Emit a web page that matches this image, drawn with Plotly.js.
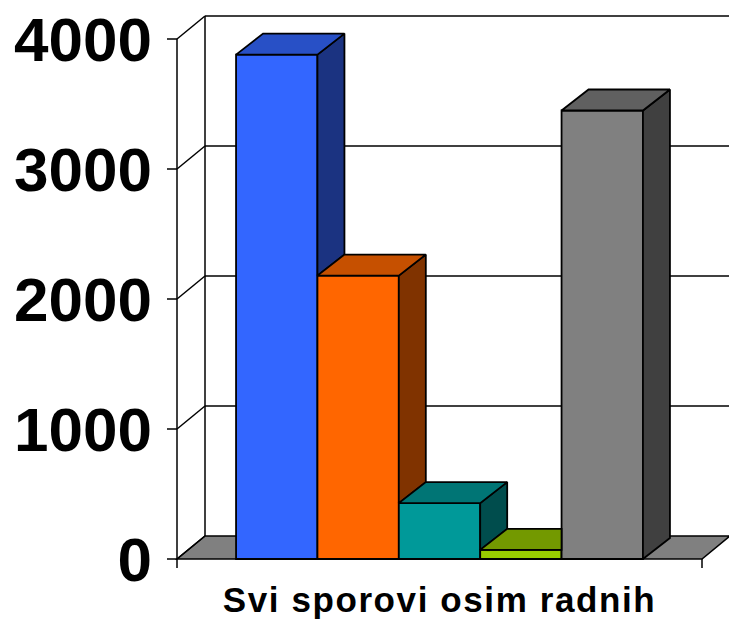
<!DOCTYPE html>
<html>
<head>
<meta charset="utf-8">
<script src="https://cdn.plot.ly/plotly-3.0.1.min.js"></script>
<style>
html, body { margin: 0; padding: 0; background: #ffffff; }
#chart { width: 729px; height: 621px; }
.xtick text { letter-spacing: 1.6px; }
</style>
</head>
<body>
<div id="chart"></div>
<script>
// ---- data ----
const categories = ['Svi sporovi osim radnih'];
const seriesNames = ['A', 'B', 'C', 'D', 'E'];
const seriesValues = [3880, 2180, 430, 70, 3450];
const yTickValues = [0, 1000, 2000, 3000, 4000];

// ---- styles ----
const frontColors = ['#3366FF', '#FF6600', '#009999', '#99CC00', '#808080'];
const topColors   = ['#2850C6', '#C65000', '#007575', '#739900', '#606060'];
const sideColors  = ['#1B3381', '#803300', '#004D4D', '#4D6600', '#404040'];

// ---- geometry (pixels -> data units) ----
const W = 729, H = 621;
const plotL = 165, plotR = 729, plotT = 14, plotB = 571;
const frontAxisPx = 177;   // x pixel of category boundary -0.5
const catPx = 525;         // pixels per category unit
const zeroPx = 559;        // y pixel of value 0
const pxPerUnit = 0.13;    // pixels per value unit
const xRange = [-0.5 - (frontAxisPx - plotL) / catPx, -0.5 + (plotR - frontAxisPx) / catPx];
const yRange = [-(plotB - zeroPx) / pxPerUnit, (zeroPx - plotT) / pxPerUnit];
const wallDx = 28 / catPx, wallDy = 23 / pxPerUnit;
const barDx = 27 / catPx, barDy = 21 / pxPerUnit;
const barGap = 0.225;
const barW = (1 - barGap) / seriesValues.length;
const tickLenX = 10 / catPx, tickLenY = 9 / pxPerUnit;
const yTop = yTickValues[yTickValues.length - 1];

const black = '#000000';
const shapes = [];
function line(x0, y0, x1, y1, w) {
  shapes.push({type: 'line', xref: 'x', yref: 'y', x0, y0, x1, y1, layer: 'below',
               line: {color: black, width: w || 1.5}});
}
// floor
shapes.push({type: 'path', xref: 'x', yref: 'y', layer: 'below',
  path: `M ${-0.5},0 L ${0.5},0 L ${0.5 + wallDx},${wallDy} L ${-0.5 + wallDx},${wallDy} Z`,
  fillcolor: '#808080', line: {color: black, width: 1.5}});
// back wall vertical edge
line(-0.5 + wallDx, wallDy, -0.5 + wallDx, yTop + wallDy);
// gridlines on back wall + diagonals on side wall + front ticks
yTickValues.forEach(t => {
  if (t > 0) line(-0.5 + wallDx, t + wallDy, xRange[1] + 0.01, t + wallDy);
  line(-0.5, t, -0.5 + wallDx, t + wallDy);
  line(-0.5 - tickLenX, t, -0.5, t);
});
// front axis
line(-0.5, -tickLenY, -0.5, yTop);
// category boundary tick at right
line(0.5, -tickLenY, 0.5, 0);

// ---- traces ----
const traces = [];
const centers = seriesValues.map((v, i) => -0.5 + barGap / 2 + (i + 0.5) * barW);
traces.push({
  type: 'bar', x: centers, y: seriesValues, width: barW,
  marker: {color: frontColors, line: {color: black, width: 1.8}},
  hoverinfo: 'skip', showlegend: false
});
seriesValues.forEach((v, i) => {
  const xl = centers[i] - barW / 2, xr = centers[i] + barW / 2;
  const next = seriesValues[i + 1];
  let top;
  if (next !== undefined && next > v) {
    top = [[xl, v], [xr, v], [xr, v + barDy], [xl + barDx, v + barDy]];
  } else {
    top = [[xl, v], [xr, v], [xr + barDx, v + barDy], [xl + barDx, v + barDy]];
  }
  let side = null;
  if (next === undefined) {
    side = [[xr, 0], [xr + barDx, barDy], [xr + barDx, v + barDy], [xr, v]];
  } else if (next < v) {
    side = [[xr, next], [xr + barDx, next + barDy], [xr + barDx, v + barDy], [xr, v]];
  }
  [[side, sideColors[i]], [top, topColors[i]]].forEach(([poly, col]) => {
    if (!poly) return;
    traces.push({
      type: 'scatter', mode: 'lines', fill: 'toself', fillcolor: col,
      x: poly.map(p => p[0]).concat([poly[0][0]]),
      y: poly.map(p => p[1]).concat([poly[0][1]]),
      line: {color: black, width: 1.8}, hoverinfo: 'skip', showlegend: false
    });
  });
});

const font = {family: '"Liberation Sans", Arial, sans-serif', color: black};
const layout = {
  width: W, height: H,
  margin: {l: plotL, r: W - plotR, t: plotT, b: H - plotB, pad: 0},
  paper_bgcolor: '#ffffff', plot_bgcolor: 'rgba(0,0,0,0)',
  showlegend: false,
  xaxis: {range: xRange, showgrid: false, zeroline: false, showline: false,
          ticks: '', tickmode: 'array', tickvals: [0], ticktext: categories,
          tickfont: Object.assign({size: 35, weight: 'bold'}, font),
          ticklabelstandoff: 5, fixedrange: true},
  yaxis: {range: yRange, showgrid: false, zeroline: false, showline: false,
          ticks: '', tickmode: 'array', tickvals: yTickValues,
          tickfont: Object.assign({size: 62, weight: 'bold'}, font),
          ticklabelstandoff: 12, fixedrange: true},
  shapes: shapes
};
Plotly.newPlot('chart', traces, layout, {displayModeBar: false, staticPlot: true});
</script>
</body>
</html>
